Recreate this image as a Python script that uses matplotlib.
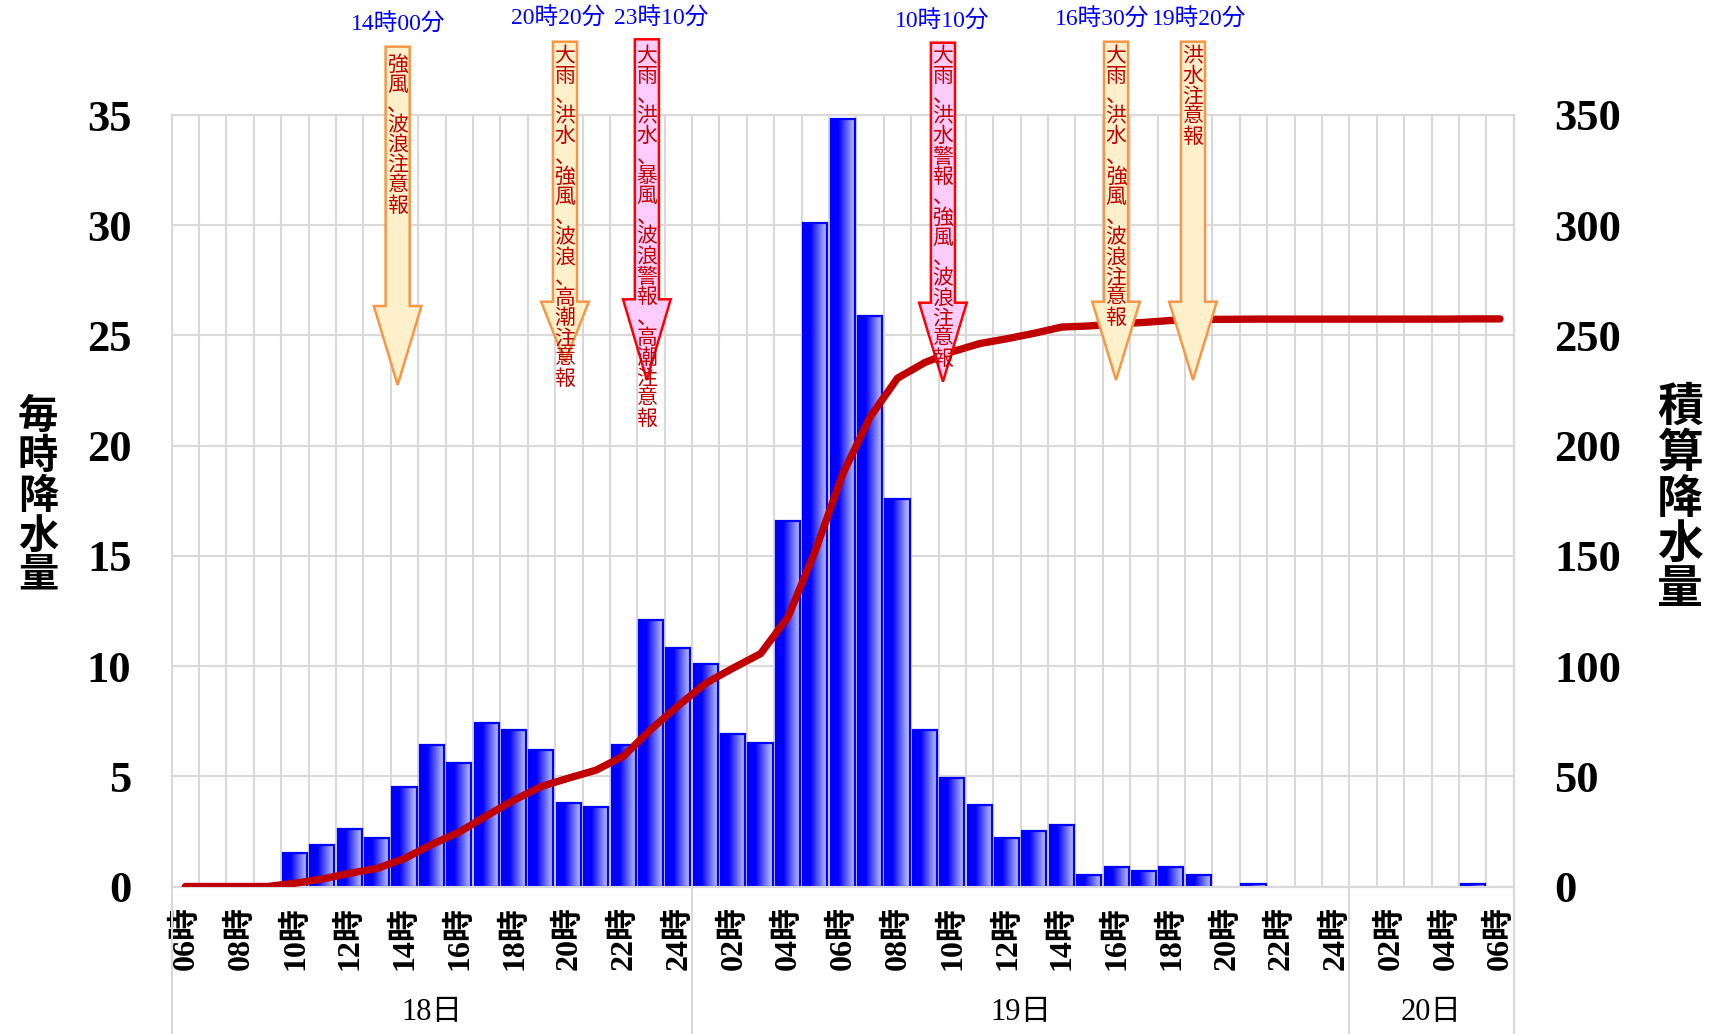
import matplotlib
matplotlib.use("Agg")
import matplotlib.pyplot as plt
import matplotlib.transforms as mtransforms
from matplotlib.patches import Polygon
from matplotlib.lines import Line2D
from matplotlib.colors import LinearSegmentedColormap
import numpy as np

plt.rcParams['font.family'] = ['Liberation Serif', 'Noto Sans CJK JP']

# ---------- data ----------
# hourly precipitation, 18日06時 .. 20日06時 (49 hours)
hourly = [0, 0, 0, 0, 1.5, 1.9, 2.6, 2.2, 4.5, 6.4,
          5.6, 7.4, 7.1, 6.2, 3.8, 3.6, 6.4, 12.1, 10.8, 10.1,
          6.9, 6.5, 16.6, 30.1, 34.8, 25.9, 17.6, 7.1, 4.9, 3.7,
          2.2, 2.5, 2.8, 0.5, 0.9, 0.7, 0.9, 0.5, 0, 0.1,
          0, 0, 0, 0, 0, 0, 0, 0.1, 0]

tick_labels = ["06時", "08時", "10時", "12時", "14時", "16時", "18時", "20時", "22時", "24時",
               "02時", "04時", "06時", "08時", "10時", "12時", "14時", "16時", "18時", "20時",
               "22時", "24時", "02時", "04時", "06時"]

days = ["18日", "19日", "20日"]
day_first = [0, 19, 43]     # first hour index of each day
day_last = [18, 42, 48]     # last hour index of each day

warn_times = ["14時00分", "20時20分", "23時10分", "10時10分", "16時30分", "19時20分"]
warn_texts = ["強風、波浪注意報",
              "大雨、洪水、強風、波浪、高潮注意報",
              "大雨、洪水、暴風、波浪警報、高潮注意報",
              "大雨、洪水警報、強風、波浪注意報",
              "大雨、洪水、強風、波浪注意報",
              "洪水注意報"]
warn_is_alert = [False, False, True, True, False, False]

# ---------- layout of the warning arrows (x in hour units, y in pixels from top) ----------
arrow_x = [7.75, 13.86, 16.85, 27.66, 33.98, 36.79]
label_x = [7.76, 13.6, 17.36, 27.62, 33.46, 37.01]
label_py = [25, 19, 19, 22, 20, 20]
arrow_top = [46.7, 41.7, 39.3, 42.7, 41.7, 41.7]
arrow_head = [306, 301.7, 299.3, 302.7, 301.7, 301.7]
arrow_tip = [385, 362, 380, 381.7, 380, 380]
text_top = [56, 48, 48, 48, 48, 48]

W, H = 1710, 1034
fig = plt.figure(figsize=(W / 100, H / 100), dpi=100)
ax = fig.add_axes([171.7 / W, 1 - 886.5 / H, 1342 / W, 771.5 / H])
ax2 = ax.twinx()

x = np.arange(len(hourly))
vals = np.array(hourly)
cum = np.cumsum(vals)

GRID = "#D9D9D9"

# bars with horizontal gradient
cmap = LinearSegmentedColormap.from_list("bar", [(0, "#0000FF"), (0.3, "#0000FF"), (1, "#C8CEF6")])
grad = np.linspace(0, 1, 64).reshape(1, -1)
nz = vals > 0
bars = ax.bar(x[nz], vals[nz], width=0.88, color="none", edgecolor="#0000FF",
              linewidth=1.6, zorder=3)
for b in bars:
    im = ax.imshow(grad, cmap=cmap, aspect="auto", zorder=2.9,
                   extent=[b.get_x(), b.get_x() + b.get_width(), 0, b.get_height()])
    im.set_clip_path(b)

ax.set_xlim(-0.5, len(hourly) - 0.5)
ax.set_ylim(0, 35)
ax.set_aspect("auto")
ax.set_yticks(np.arange(0, 36, 5))
ax.set_xticks(np.arange(0, len(hourly), 2))
ax.set_xticklabels(tick_labels, rotation=90, fontsize=23, fontweight="bold")
ax.set_xticks(np.arange(-0.5, len(hourly), 1), minor=True)
ax.tick_params(axis="x", which="both", length=0, pad=14)
ax.tick_params(axis="y", length=0, pad=29, labelsize=32)
for lab in ax.get_yticklabels():
    lab.set_fontweight("bold")
ax.grid(axis="y", which="major", color=GRID, linewidth=1.5, zorder=0)
ax.grid(axis="x", which="minor", color=GRID, linewidth=1.5, zorder=0)
ax.set_axisbelow(True)

# cumulative line
ax2.plot(x, cum, color="#C00000", linewidth=5.3, solid_capstyle="round",
         solid_joinstyle="round", zorder=5)
ax2.set_ylim(0, 350)
ax2.set_yticks(np.arange(0, 351, 50))
ax2.tick_params(axis="y", length=0, pad=29, labelsize=32)
for lab in ax2.get_yticklabels():
    lab.set_fontweight("bold")

for a in (ax, ax2):
    for s in a.spines.values():
        s.set_color(GRID)
        s.set_linewidth(1.5)

# axis titles, stacked vertically
fig.text(38 / W, 1 - 497 / H, "\n".join("毎時降水量"), ha="center", va="center",
         fontsize=29, fontweight="bold", linespacing=1.06)
fig.text(1680 / W, 1 - 500 / H, "\n".join("積算降水量"), ha="center", va="center",
         fontsize=33, fontweight="bold", linespacing=1.08)

# day labels and separators below the axis
trans = mtransforms.blended_transform_factory(ax.transData, fig.transFigure)
for d, f, l in zip(days, day_first, day_last):
    ax.text((f + l) / 2, 1 - 1012 / H, d, transform=trans, ha="center", va="center",
            fontsize=22)
for bx in [-0.5] + [l + 0.5 for l in day_last]:
    fig.add_artist(Line2D([bx, bx], [0, 1 - 886.5 / H], transform=trans,
                          color=GRID, linewidth=1.5))

# warning arrows
for i, txt in enumerate(warn_texts):
    if warn_is_alert[i]:
        ec, fc = "#FF0000", "#FFCCFF"
    else:
        ec, fc = "#F79646", "#FFF0CC"
    cx = arrow_x[i]
    hw, HW = 0.44, 0.87
    yt, yh, yp = [1 - v / H for v in (arrow_top[i], arrow_head[i], arrow_tip[i])]
    pts = [(cx - hw, yt), (cx + hw, yt), (cx + hw, yh), (cx + HW, yh),
           (cx, yp), (cx - HW, yh), (cx - hw, yh)]
    ax2.add_patch(Polygon(pts, closed=True, transform=trans, facecolor=fc,
                          edgecolor=ec, linewidth=1.8, clip_on=False, zorder=10))
    ax2.text(cx, 1 - text_top[i] / H, "\n".join(txt), transform=trans, ha="center",
             va="top", fontsize=15, color="#C00000", linespacing=1.07,
             clip_on=False, zorder=11)
    ax2.text(label_x[i], 1 - label_py[i] / H, warn_times[i], transform=trans,
             ha="center", va="center", fontsize=17, color="#0000FF", zorder=11)

fig.savefig("out.png", dpi=100, facecolor="white")
